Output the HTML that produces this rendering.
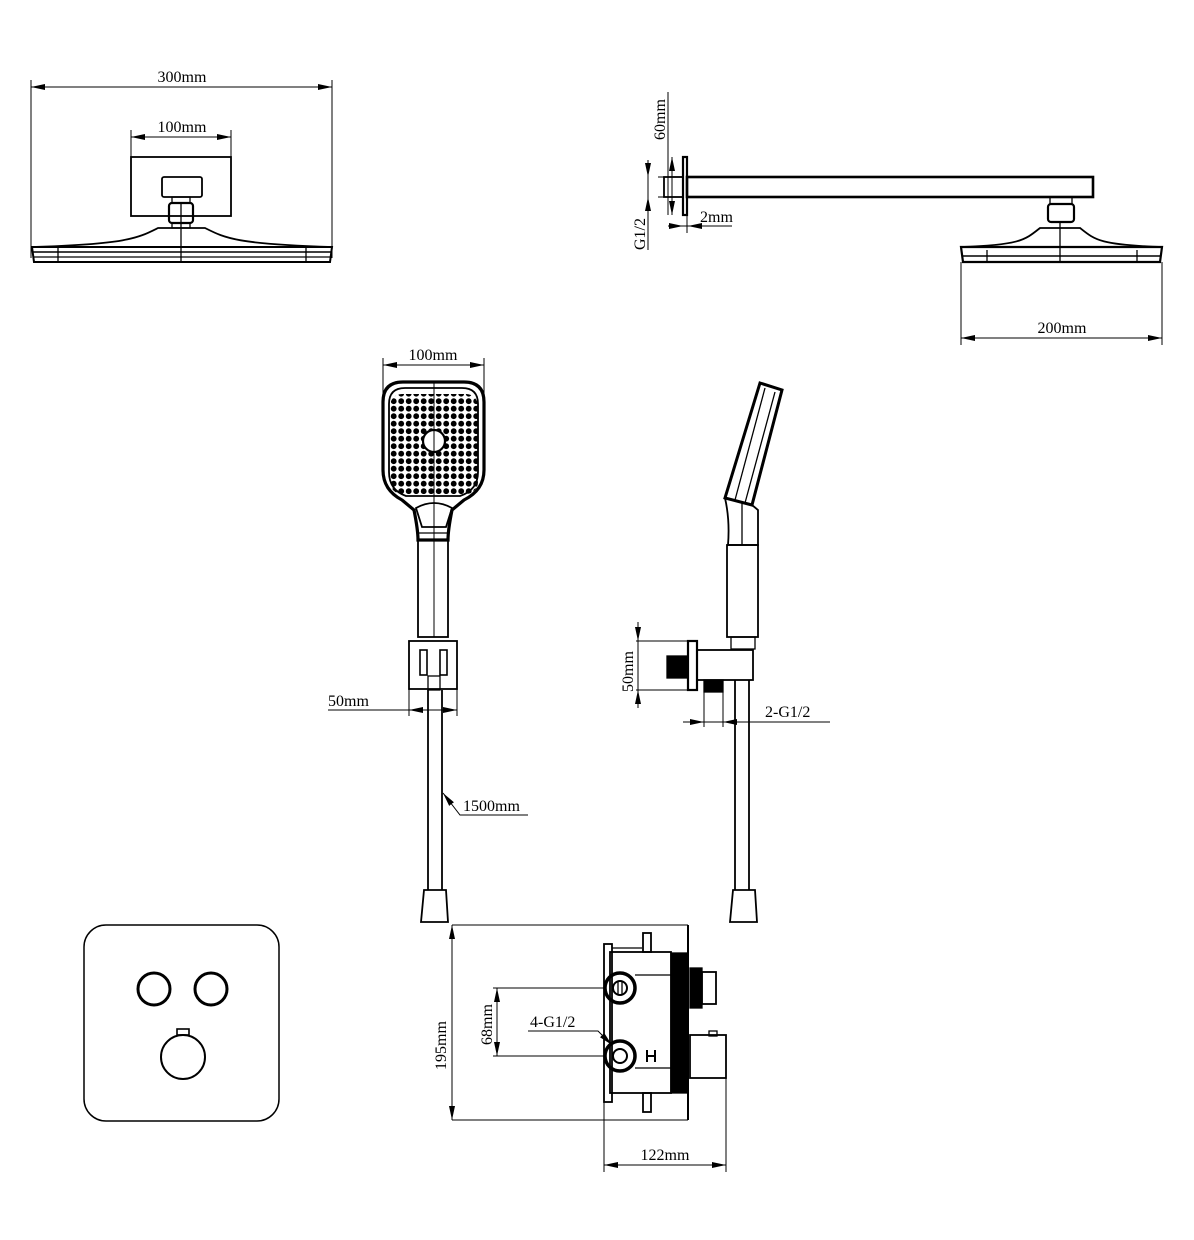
<!DOCTYPE html>
<html><head><meta charset="utf-8"><style>
html,body{margin:0;padding:0;background:#fff}
svg{display:block}
text{font-family:"Liberation Serif",serif;font-size:16px;fill:#000}
</style></head><body>
<svg width="1194" height="1240" viewBox="0 0 1194 1240" xmlns="http://www.w3.org/2000/svg">
<defs>
<marker id="a" viewBox="0 0 14 6" refX="14" refY="3" markerWidth="14" markerHeight="6" orient="auto-start-reverse" markerUnits="userSpaceOnUse"><path d="M0,0L14,3L0,6z" fill="#000"/></marker>
<pattern id="dots" width="7.5" height="7.5" patternUnits="userSpaceOnUse"><circle cx="3.7" cy="3.7" r="2.9" fill="#000"/></pattern>
<clipPath id="hc"><rect x="390" y="394" width="88" height="100" rx="12"/></clipPath>
</defs>
<g fill="none" stroke="#000" stroke-width="1.3">
<line x1="31" y1="80" x2="31" y2="258" stroke-width="1"/>
<line x1="332" y1="80" x2="332" y2="258" stroke-width="1"/>
<line x1="31" y1="87" x2="332" y2="87" marker-start="url(#a)" marker-end="url(#a)" stroke-width="1"/>
<line x1="131" y1="130" x2="131" y2="157" stroke-width="1"/>
<line x1="231" y1="130" x2="231" y2="157" stroke-width="1"/>
<line x1="131" y1="137" x2="231" y2="137" marker-start="url(#a)" marker-end="url(#a)" stroke-width="1"/>
<rect x="131" y="157" width="100" height="59" stroke-width="1.8"/>
<rect x="162" y="177" width="40" height="20" rx="2" stroke-width="1.8"/>
<rect x="172" y="197" width="18" height="6"/>
<rect x="169" y="203" width="24" height="20" rx="3" stroke-width="2.2"/>
<line x1="181" y1="203" x2="181" y2="262"/>
<rect x="172" y="223" width="18" height="5"/>
<path d="M158,228 L205,228 C225,238 235,244 332,247 L32,247 C128,244 138,238 158,228Z" stroke-width="1.8"/>
<path d="M32,247 H332 L330,262 H34 Z" stroke-width="2"/>
<line x1="33" y1="252" x2="331" y2="252" stroke-width="1.6"/><line x1="33" y1="257" x2="331" y2="257"/>
<line x1="58" y1="247" x2="58" y2="262"/><line x1="306" y1="247" x2="306" y2="262"/>

<line x1="668" y1="92" x2="668" y2="215" stroke-width="1"/>
<line x1="658" y1="177" x2="668" y2="177" stroke-width="1"/>
<line x1="658" y1="197" x2="668" y2="197" stroke-width="1"/>
<line x1="648" y1="160" x2="648" y2="177" marker-end="url(#a)" stroke-width="1"/>
<line x1="648" y1="214" x2="648" y2="197" marker-end="url(#a)" stroke-width="1"/>
<line x1="648" y1="177" x2="648" y2="250" stroke-width="1"/>
<line x1="672" y1="157" x2="672" y2="215" marker-start="url(#a)" marker-end="url(#a)" stroke-width="1"/>
<rect x="664" y="177" width="19" height="20" stroke-width="1.8"/>
<rect x="683" y="157" width="4" height="58" stroke-width="2.2"/>
<line x1="687" y1="215" x2="687" y2="233" stroke-width="1"/>
<line x1="668" y1="226" x2="732" y2="226" stroke-width="1"/>
<line x1="668" y1="226" x2="683" y2="226" marker-end="url(#a)" stroke-width="1"/>
<line x1="705" y1="226" x2="688" y2="226" marker-end="url(#a)" stroke-width="1"/>
<rect x="687" y="177" width="406" height="20" stroke-width="2.6"/>
<rect x="1050" y="197" width="22" height="7"/>
<rect x="1048" y="204" width="26" height="18" rx="3" stroke-width="2.2"/>
<line x1="1060" y1="222" x2="1060" y2="262"/>
<path d="M1040,228 L1080,228 C1095,240 1100,245 1162,247 L961,247 C1020,245 1025,240 1040,228Z" stroke-width="1.8"/>
<path d="M961,247 H1162 L1160,262 H963 Z" stroke-width="2.2"/>
<line x1="962" y1="256" x2="1161" y2="256" stroke-width="1.6"/>
<line x1="987" y1="250" x2="987" y2="262"/><line x1="1137" y1="250" x2="1137" y2="262"/>
<line x1="961" y1="262" x2="961" y2="345" stroke-width="1"/>
<line x1="1162" y1="262" x2="1162" y2="345" stroke-width="1"/>
<line x1="961" y1="338" x2="1162" y2="338" marker-start="url(#a)" marker-end="url(#a)" stroke-width="1"/>

<line x1="383" y1="358" x2="383" y2="420" stroke-width="1"/>
<line x1="484" y1="358" x2="484" y2="420" stroke-width="1"/>
<line x1="383" y1="365" x2="484" y2="365" marker-start="url(#a)" marker-end="url(#a)" stroke-width="1"/>
<path d="M403,382 H464 Q484,382 484,402 V470 Q484,490 464,500 L452,510 Q448,530 448,540 H418 Q418,530 414,510 L402,500 Q383,490 383,470 V402 Q383,382 403,382Z" stroke-width="3.2"/>
<path d="M405,388 H462 Q478,388 478,404 V472 Q478,490 460,496 H406 Q389,490 389,472 V404 Q389,388 405,388Z" stroke-width="1.8"/>
<rect x="390" y="394" width="88" height="100" fill="url(#dots)" stroke="none" clip-path="url(#hc)"/>
<circle cx="434" cy="441" r="11" fill="#fff" stroke-width="2.2"/>
<path d="M416,508 Q434,498 452,508 L446,527 H422Z" stroke-width="1.8"/>
<line x1="434" y1="382" x2="434" y2="637" stroke-width="1"/>
<line x1="418" y1="533" x2="448" y2="533"/>
<rect x="418" y="540" width="30" height="97" stroke-width="1.8"/>
<rect x="409" y="641" width="48" height="48" stroke-width="1.8"/>
<rect x="420" y="650" width="7" height="25" stroke-width="1.6"/><rect x="440" y="650" width="7" height="25" stroke-width="1.6"/>
<rect x="428" y="676" width="12" height="14"/>
<line x1="428" y1="690" x2="428" y2="890" stroke-width="1.8"/>
<line x1="442" y1="690" x2="442" y2="890" stroke-width="1.8"/>
<path d="M424,890 H446 L448,922 H421Z" stroke-width="1.8"/>
<line x1="409" y1="689" x2="409" y2="716" stroke-width="1"/>
<line x1="457" y1="689" x2="457" y2="716" stroke-width="1"/>
<line x1="328" y1="710" x2="457" y2="710" stroke-width="1"/>
<line x1="409" y1="710" x2="457" y2="710" marker-start="url(#a)" marker-end="url(#a)" stroke-width="1"/>
<polyline points="528,815 460,815 443,793" stroke-width="1" marker-end="url(#a)"/>

<path d="M760,383 L782,390 L752,505 L725,498Z" stroke-width="3"/>
<line x1="765" y1="388" x2="735" y2="500"/>
<line x1="775" y1="392" x2="745" y2="503"/>
<path d="M725,498 Q730,520 728,545 H758 V510 L752,505" stroke-width="1.8"/>
<line x1="742" y1="503" x2="742" y2="545"/>
<rect x="727" y="545" width="31" height="92" stroke-width="1.8"/>
<rect x="731" y="637" width="24" height="12"/>
<rect x="688" y="641" width="9" height="49" stroke-width="2.2"/>
<rect x="697" y="650" width="56" height="30" stroke-width="1.8"/>
<rect x="667" y="656" width="21" height="22" fill="#000"/>
<rect x="704" y="680" width="19" height="12" fill="#000"/>
<line x1="735" y1="680" x2="735" y2="890" stroke-width="1.8"/>
<line x1="749" y1="680" x2="749" y2="890" stroke-width="1.8"/>
<path d="M733,890 H755 L757,922 H730Z" stroke-width="1.8"/>
<line x1="636" y1="641" x2="688" y2="641" stroke-width="1"/>
<line x1="636" y1="690" x2="688" y2="690" stroke-width="1"/>
<line x1="638" y1="622" x2="638" y2="641" marker-end="url(#a)" stroke-width="1"/>
<line x1="638" y1="708" x2="638" y2="690" marker-end="url(#a)" stroke-width="1"/>
<line x1="638" y1="641" x2="638" y2="690" stroke-width="1"/>
<line x1="704" y1="692" x2="704" y2="727" stroke-width="1"/>
<line x1="723" y1="692" x2="723" y2="727" stroke-width="1"/>
<line x1="683" y1="722" x2="830" y2="722" stroke-width="1"/>
<line x1="684" y1="722" x2="704" y2="722" marker-end="url(#a)" stroke-width="1"/>
<line x1="742" y1="722" x2="723" y2="722" marker-end="url(#a)" stroke-width="1"/>

<rect x="84" y="925" width="195" height="196" rx="22" stroke-width="1.5"/>
<circle cx="154" cy="989" r="16" stroke-width="3"/>
<circle cx="211" cy="989" r="16" stroke-width="3"/>
<circle cx="183" cy="1057" r="22" stroke-width="2"/>
<rect x="177" y="1029" width="12" height="6" stroke-width="1.6"/>

<line x1="452" y1="925" x2="688" y2="925" stroke-width="1"/>
<line x1="452" y1="1120" x2="688" y2="1120" stroke-width="1"/>
<line x1="452" y1="925" x2="452" y2="1120" marker-start="url(#a)" marker-end="url(#a)" stroke-width="1"/>
<line x1="688" y1="925" x2="688" y2="1120" stroke-width="2"/>
<rect x="671" y="953" width="16" height="140" fill="#000"/>
<rect x="610" y="952" width="61" height="141" stroke-width="1.8"/>
<rect x="604" y="944" width="8" height="158" stroke-width="1.8"/>
<rect x="643" y="933" width="8" height="19" stroke-width="1.8"/>
<rect x="643" y="1093" width="8" height="19" stroke-width="1.8"/>
<line x1="612" y1="948" x2="642" y2="948"/>
<circle cx="620" cy="988" r="15" stroke-width="3.5"/>
<circle cx="620" cy="988" r="7" stroke-width="2"/>
<line x1="618" y1="982" x2="618" y2="994"/><line x1="622" y1="982" x2="622" y2="994"/>
<circle cx="620" cy="1056" r="15" stroke-width="3.5"/>
<circle cx="620" cy="1056" r="7" stroke-width="2"/>
<path d="M647,1050 V1062 M655,1050 V1062 M647,1056 H655" stroke-width="2"/>
<line x1="635" y1="975" x2="671" y2="975"/>
<line x1="635" y1="1068" x2="671" y2="1068"/>
<rect x="690" y="968" width="12" height="40" fill="#000"/>
<rect x="702" y="972" width="14" height="32" stroke-width="1.8"/>
<rect x="690" y="1035" width="36" height="43" stroke-width="1.8"/>
<rect x="709" y="1031" width="8" height="5"/>
<line x1="604" y1="1102" x2="604" y2="1172" stroke-width="1"/>
<line x1="726" y1="1078" x2="726" y2="1172" stroke-width="1"/>
<line x1="604" y1="1165" x2="726" y2="1165" marker-start="url(#a)" marker-end="url(#a)" stroke-width="1"/>
<line x1="493" y1="988" x2="605" y2="988" stroke-width="1"/>
<line x1="493" y1="1056" x2="605" y2="1056" stroke-width="1"/>
<line x1="497" y1="988" x2="497" y2="1056" marker-start="url(#a)" marker-end="url(#a)" stroke-width="1"/>
<polyline points="528,1031 598,1031 612,1045" stroke-width="1" marker-end="url(#a)"/>
</g>
<text x="182" y="82" text-anchor="middle">300mm</text>
<text x="182" y="132" text-anchor="middle">100mm</text>
<text x="0" y="0" transform="translate(665,140) rotate(-90)">60mm</text>
<text x="0" y="0" transform="translate(645,250) rotate(-90)">G1/2</text>
<text x="700" y="222">2mm</text>
<text x="1062" y="333" text-anchor="middle">200mm</text>
<text x="433" y="360" text-anchor="middle">100mm</text>
<text x="328" y="706">50mm</text>
<text x="463" y="811">1500mm</text>
<text x="0" y="0" transform="translate(633,692) rotate(-90)">50mm</text>
<text x="765" y="717">2-G1/2</text>
<text x="0" y="0" transform="translate(446,1070) rotate(-90)">195mm</text>
<text x="0" y="0" transform="translate(492,1045) rotate(-90)">68mm</text>
<text x="530" y="1027">4-G1/2</text>
<text x="665" y="1160" text-anchor="middle">122mm</text>
</svg>
</body></html>
